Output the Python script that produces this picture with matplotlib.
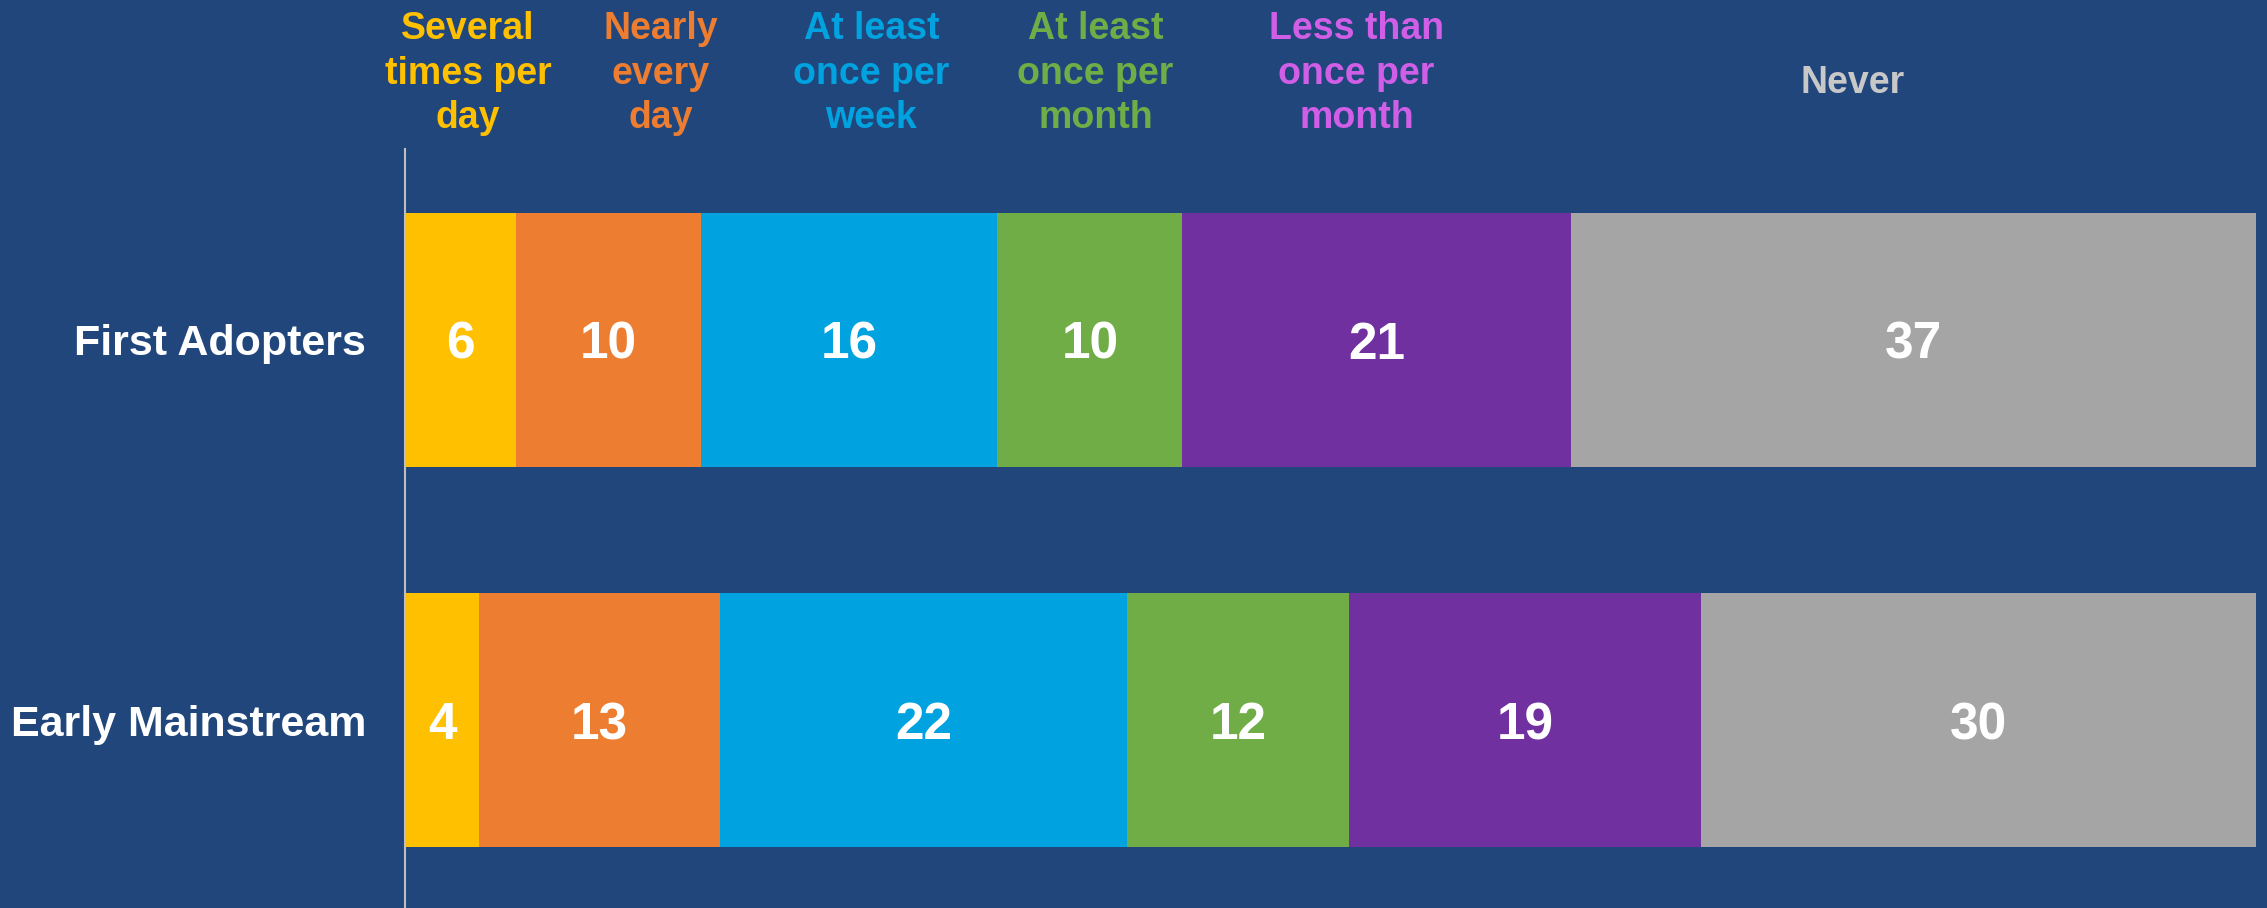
import matplotlib
matplotlib.use("Agg")
import matplotlib.pyplot as plt
import numpy as np

# ---- data ----
groups = ["First Adopters", "Early Mainstream"]
categories = ["Several\ntimes per\nday", "Nearly\nevery\nday", "At least\nonce per\nweek",
              "At least\nonce per\nmonth", "Less than\nonce per\nmonth", "Never"]
first_adopters = [6, 10, 16, 10, 21, 37]
early_mainstream = [4, 13, 22, 12, 19, 30]

# ---- style ----
bar_colors = ["#FFC000", "#ED7D31", "#00A2E0", "#70AD47", "#7030A0", "#A5A5A5"]
header_colors = ["#FFC000", "#ED7D31", "#00A2E0", "#70AD47", "#D05EE6", "#C8C8C8"]
header_x = [3.4, 13.8, 25.2, 37.3, 51.4, 78.2]   # header centres in data units
bg = "#20467C"
plt.rcParams['font.family'] = ['Liberation Sans', 'DejaVu Sans']

W, H = 2267, 908
fig = plt.figure(figsize=(W / 100, H / 100), dpi=100, facecolor=bg)
left_px, right_px, top_px = 405, 2256, 149
ax = fig.add_axes([left_px / W, 0, (right_px - left_px) / W, 1 - top_px / H])
ax.set_facecolor(bg)

ypos = [1, 0]
series = np.array([first_adopters, early_mainstream])
lefts = np.zeros(len(groups))
for j, col in enumerate(bar_colors):
    vals = series[:, j]
    ax.barh(ypos, vals, left=lefts, height=0.668, color=col, edgecolor='none')
    for y, l, v in zip(ypos, lefts, vals):
        ax.text(l + v / 2, y, str(v), ha='center', va='center_baseline',
                color='white', fontsize=37, fontweight='bold')
    lefts = lefts + vals

ax.set_xlim(0, 100)
ax.set_ylim(-0.4947, 1.5026)
ax.set_xticks([])
ax.set_yticks(ypos)
ax.set_yticklabels(groups, fontsize=31, fontweight='bold', color='white')
ax.tick_params(axis='y', length=0, pad=28)
for s in ['top', 'right', 'bottom']:
    ax.spines[s].set_visible(False)
ax.spines['left'].set_color('#BFBFBF')
ax.spines['left'].set_linewidth(1.5)

# header labels (baseline of the last line)
trans = matplotlib.transforms.blended_transform_factory(ax.transData, fig.transFigure)
for lab, x, c in zip(categories, header_x, header_colors):
    nlines = lab.count("\n") + 1
    base_px = 128 if nlines > 1 else 93
    ax.text(x, 1 - base_px / H, lab, transform=trans, ha='center', va='baseline',
            color=c, fontsize=27, fontweight='bold', linespacing=1.3,
            multialignment='center', clip_on=False)

fig.savefig("out.png", dpi=100, facecolor=bg)
